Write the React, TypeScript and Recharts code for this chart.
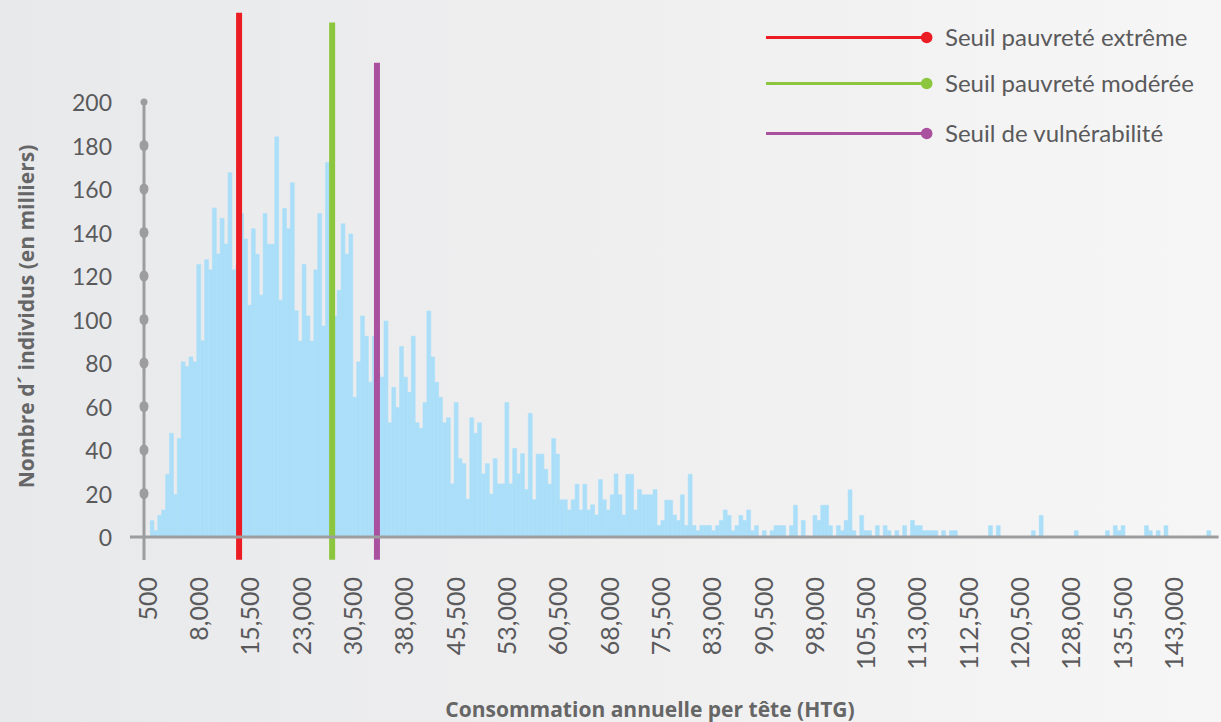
import { BarChart, Bar, XAxis, YAxis, ReferenceLine, Label } from "recharts";

// thousands of individuals per consumption bin (left to right)
const BIN_COUNTS = [
  7.5, 2.9, 9.9, 12.4, 28.8, 47.7, 19.5, 45.3, 80.5, 78.3, 82.8, 80.5, 125.3, 90.2, 127.5, 122.8,
  151.2, 130.1, 146.5, 134.7, 167.5, 122.8, 125, 148.7, 137,
  106.5, 141.7, 130, 111.2, 148.7, 134.6, 134.6, 184, 108.9, 151, 141.7, 162.9, 104, 90, 125.3,
  101.6, 90, 122.8, 148.7, 97, 172.2,
  120, 101.6, 113.4, 144, 130, 139.3, 64.2, 80.5, 101.6, 92.3, 71.2, 92.3, 75, 73.5, 99.3, 52.5,
  68.8, 59.5, 87.6, 73.5, 66.5, 92.3, 52.5, 50, 61.8, 103.9,
  82.8, 71.1, 64.2, 52.5, 54.8, 24.4, 61.8, 36, 33.7, 17.4, 54.8, 47.7, 52.5, 29, 33.7, 19.7,
  36, 24.4, 24.4, 61.8, 24.4, 40.7, 29, 38.3,
  21.8, 56.9, 17.1, 38.1, 38.1, 31.1, 24.3, 45.3, 38.1, 17.1, 17.1, 12.4, 17.1, 24.3, 12.4, 24.3,
  12.4, 14.8, 10.1, 26.4, 17.1, 12.4, 19.4, 29, 19.4,
  10.1, 28.8, 28.8, 12.4, 21.8, 19.4, 19.4, 19.4, 21.8, 5.3, 7.6, 16.9, 16.9, 10.1, 7.6, 19.4,
  5.3, 28.8, 5.3, 2.9, 5.3, 5.3, 5.3, 2.9,
  5.2, 7.6, 12.4, 9.9, 2.9, 5.2, 9.9, 7.6, 12.4, 2.9, 5.2, 0, 2.9, 0, 2.9, 5.2,
  5.2, 5.2, 0, 5.2, 14.6, 0, 7.6, 0, 0, 9.9, 7.6, 14.6, 14.6, 5.2, 0, 5.2,
  2.9, 7.6, 21.7, 2.9, 0, 9.9, 2.9, 2.9, 0, 5.2, 0, 5.2, 2.9, 0, 2.9, 0,
  5.2, 0, 7.6, 5.2, 5.2, 2.9, 2.9, 2.9, 2.9, 0, 2.9, 0, 2.9, 2.9, 0,
  0, 0, 0, 0, 0, 0, 0, 5.2, 0, 5.2, 0, 0, 0, 0, 0, 0,
  0, 0, 2.9, 0, 9.9, 0, 0, 0, 0, 0, 0, 0, 0, 2.9, 0, 0,
  0, 0, 0, 0, 0, 2.9, 0, 5.2, 2.9, 5.2, 0, 0, 0, 0, 0, 5.2,
  2.9, 0, 2.9, 0, 5.2, 0, 0, 0, 0, 0, 0, 0, 0, 0, 0, 2.9,
  0, 0,
];
// histogram bins (HTG)
const BIN_START = 980;
const BIN_WIDTH = 570;

const X_TICK_VALUES = [
  500, 8000, 15500, 23000, 30500, 38000, 45500, 53000, 60500, 68000, 75500,
  83000, 90500, 98000, 105500, 113000, 120500, 128000, 135500, 143000, 150500,
];
// labels as printed on the original axis
const X_TICK_LABELS = [
  "500", "8,000", "15,500", "23,000", "30,500", "38,000", "45,500", "53,000", "60,500", "68,000", "75,500",
  "83,000", "90,500", "98,000", "105,500", "113,000", "112,500", "120,500", "128,000", "135,500", "143,000",
];
const Y_TICKS = [0, 20, 40, 60, 80, 100, 120, 140, 160, 180, 200];

const THRESHOLD_NAMES = ["Seuil pauvreté extrême", "Seuil pauvreté modérée", "Seuil de vulnérabilité"];
const THRESHOLD_VALUES = [14000, 27600, 34150];

const THRESHOLD_COLORS = ["#ec1c24", "#8cc63f", "#a9509f"];
const THRESHOLD_TOPS = [241, 236.5, 218];
const LEGEND_ROW_Y = [37.5, 83.5, 133.5];

const data = BIN_COUNTS.map((count, i) => ({ htg: BIN_START + (i + 0.5) * BIN_WIDTH, count }));

const AXIS_GRAY = "#9d9d9f";
const TEXT_GRAY = "#5a5a5c";
const BAR_BLUE = "#abdff9";
const FONT = "Lato, sans-serif";
const TITLE_FONT = "'Open Sans', sans-serif";

function XTick({ x, y, payload }: any) {
  const i = X_TICK_VALUES.indexOf(payload.value);
  const ty = y + 40;
  return (
    <text
      x={x}
      y={ty}
      transform={`rotate(-90 ${x} ${ty})`}
      textAnchor="end"
      dominantBaseline="central"
      fill={TEXT_GRAY}
      fontSize={25}
      fontFamily={FONT}
    >
      {X_TICK_LABELS[i]}
    </text>
  );
}

function YTick({ x, y, payload }: any) {
  const v = payload.value;
  let mark;
  if (v === 0) {
    mark = (
      <>
        <line x1={x - 14} x2={x} y1={y} y2={y} stroke={AXIS_GRAY} strokeWidth={3} />
        <line x1={x} x2={x} y1={y} y2={y + 23} stroke={AXIS_GRAY} strokeWidth={3} />
      </>
    );
  } else if (v === 200) {
    mark = <circle cx={x} cy={y} r={3.5} fill={AXIS_GRAY} />;
  } else {
    mark = <ellipse cx={x} cy={y} rx={4.5} ry={5.5} fill={AXIS_GRAY} />;
  }
  return (
    <g>
      {mark}
      <text x={x - 32} y={y} textAnchor="end" dominantBaseline="central" fill={TEXT_GRAY} fontSize={23} fontFamily={FONT}>
        {v}
      </text>
    </g>
  );
}

function XTitle({ viewBox }: any) {
  return (
    <text x={viewBox.x + 506} y={709} textAnchor="middle" dominantBaseline="central" fill="#666" fontSize={21} fontWeight={700} fontFamily={TITLE_FONT}>
      Consommation annuelle per tête (HTG)
    </text>
  );
}

function YTitle({ viewBox }: any) {
  const cx = 26;
  const cy = viewBox.y + viewBox.height / 2 - 3;
  return (
    <text x={cx} y={cy} transform={`rotate(-90 ${cx} ${cy})`} textAnchor="middle" dominantBaseline="central" fill="#666" fontSize={21} fontWeight={700} fontFamily={TITLE_FONT}>
      Nombre d´ individus (en milliers)
    </text>
  );
}

export default function App() {
  return (
    <div
      style={{
        position: "absolute",
        left: 0,
        top: 0,
        width: 1221,
        height: 722,
        overflow: "hidden",
        background: "linear-gradient(90deg, #e8e9eb 0%, #eeeeef 45%, #f6f6f6 100%)",
      }}
    >
      <BarChart
        width={1221}
        height={722}
        data={data}
        margin={{ top: 102, right: 2.4, bottom: 0, left: 0 }}
        barCategoryGap={0}
        barGap={0}
      >
        <XAxis
          dataKey="htg"
          type="number"
          domain={[BIN_START, BIN_START + BIN_COUNTS.length * BIN_WIDTH]}
          ticks={X_TICK_VALUES}
          allowDataOverflow
          interval={0}
          padding={{ left: 6, right: 0 }}
          height={185}
          tick={<XTick />}
          tickLine={false}
          tickSize={0}
          tickMargin={0}
          axisLine={{ stroke: AXIS_GRAY, strokeWidth: 3 }}
        >
          <Label content={<XTitle />} />
        </XAxis>
        <YAxis
          domain={[0, 200]}
          ticks={Y_TICKS}
          interval={0}
          width={144}
          tick={<YTick />}
          tickLine={false}
          tickSize={0}
          tickMargin={0}
          axisLine={{ stroke: AXIS_GRAY, strokeWidth: 3 }}
        >
          <Label content={<YTitle />} />
        </YAxis>
        <Bar
          dataKey="count"
          fill={BAR_BLUE}
          stroke={BAR_BLUE}
          strokeWidth={0.6}
          barSize={3.88}
          isAnimationActive={false}
        />
        {THRESHOLD_VALUES.map((v, i) => (
          <ReferenceLine
            key={THRESHOLD_NAMES[i]}
            segment={[
              { x: v, y: -10.5 },
              { x: v, y: THRESHOLD_TOPS[i] },
            ]}
            stroke={THRESHOLD_COLORS[i]}
            strokeWidth={6}
            ifOverflow="visible"
          />
        ))}
      </BarChart>
      <svg width={1221} height={160} style={{ position: "absolute", left: 0, top: 0, pointerEvents: "none" }}>
        {THRESHOLD_NAMES.map((name, i) => (
          <g key={name}>
            <line x1={766} x2={926.7} y1={LEGEND_ROW_Y[i]} y2={LEGEND_ROW_Y[i]} stroke={THRESHOLD_COLORS[i]} strokeWidth={3} />
            <circle cx={926.7} cy={LEGEND_ROW_Y[i]} r={5.8} fill={THRESHOLD_COLORS[i]} />
            <text x={945} y={LEGEND_ROW_Y[i] - 1.5} dominantBaseline="central" fill={TEXT_GRAY} fontSize={24} fontFamily={FONT}>
              {name}
            </text>
          </g>
        ))}
      </svg>
    </div>
  );
}
